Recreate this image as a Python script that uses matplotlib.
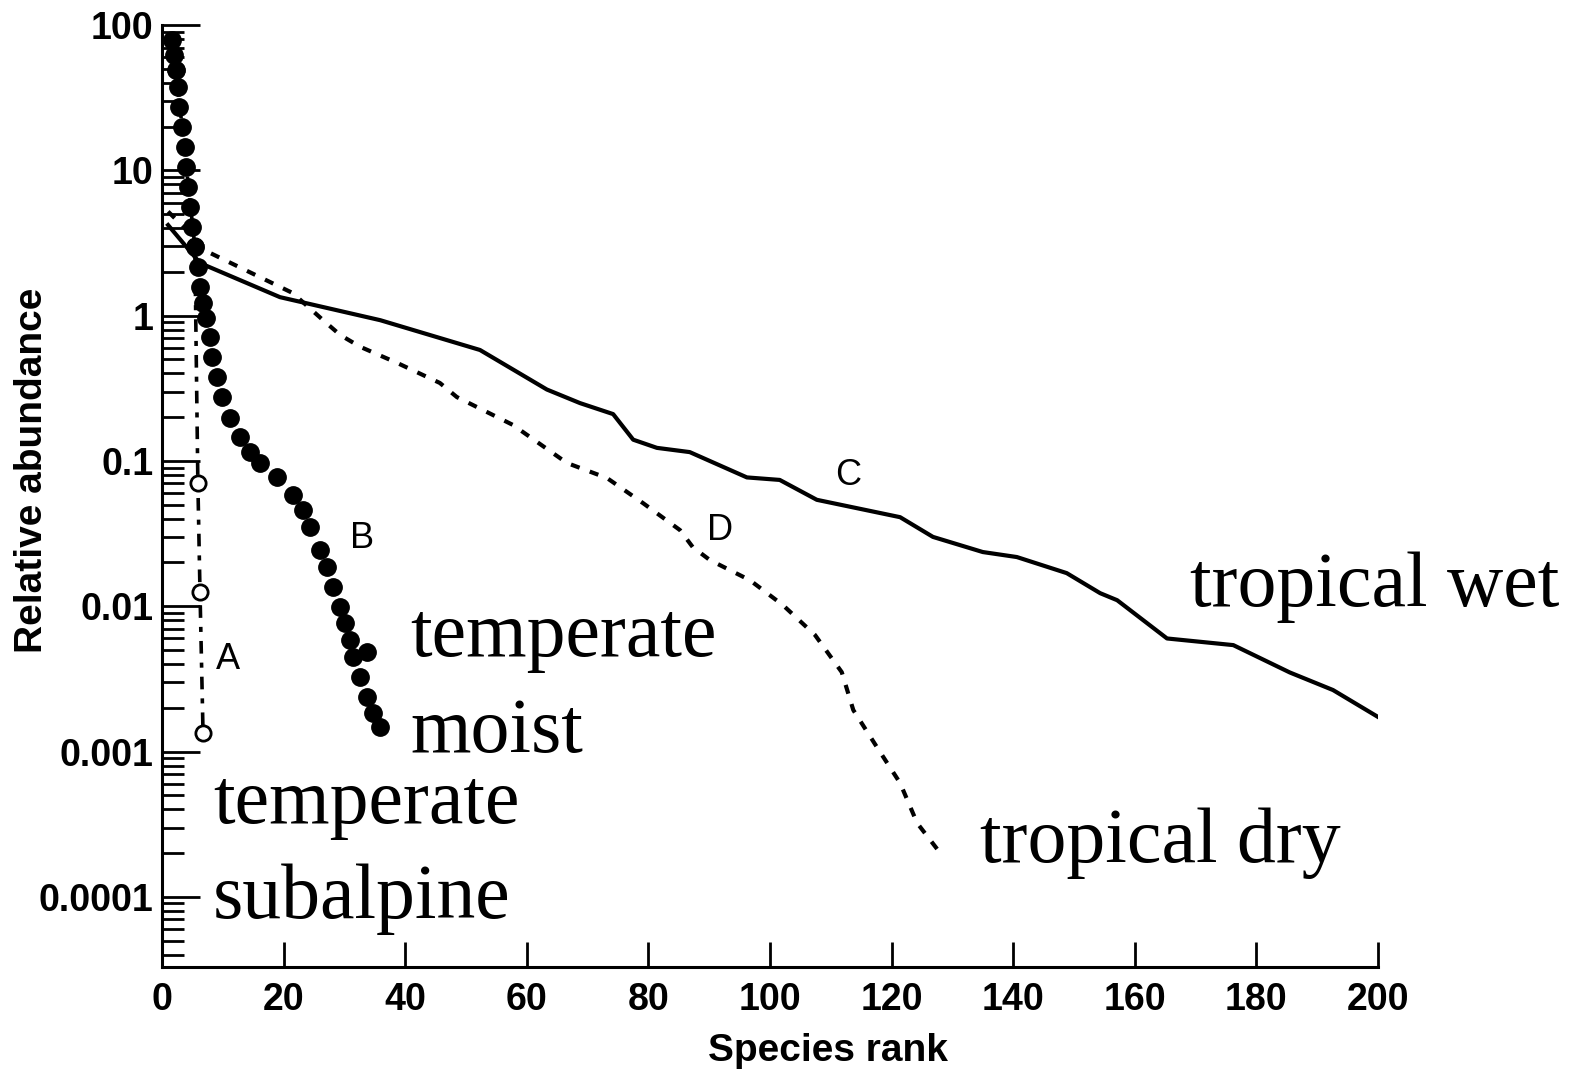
import matplotlib
matplotlib.use("Agg")
import matplotlib.pyplot as plt
from matplotlib.ticker import FixedLocator, LogLocator, NullFormatter

# A - temperate subalpine (open circles, dash-dot)
rank_a = [2.3, 5.4, 5.9, 6.25, 6.75]
abund_a = [49.0, 3.0, 0.0705, 0.0125, 0.00134]

# B - temperate moist (filled circles)
rank_b = [1.64, 1.97, 2.30, 2.63, 2.80, 3.29, 3.78, 3.95, 4.28, 4.61, 4.93,
          5.43, 5.92, 6.25, 6.74, 7.24, 7.89, 8.22, 9.05, 9.87, 11.18, 12.83,
          14.47, 16.12, 18.91, 21.55, 23.19, 24.34, 25.99, 27.14, 28.13,
          29.28, 30.10, 30.92, 31.41, 32.57, 33.72, 34.70, 35.86, 33.72]
abund_b = [78.9, 62.2, 49.0, 37.4, 27.3, 19.9, 14.5, 10.5, 7.68, 5.59, 4.07,
           2.97, 2.16, 1.57, 1.22, 0.962, 0.713, 0.519, 0.378, 0.275, 0.197,
           0.146, 0.115, 0.0968, 0.0775, 0.0582, 0.0459, 0.0351, 0.0244,
           0.0186, 0.0136, 0.00987, 0.00766, 0.00585, 0.00447, 0.00326,
           0.00237, 0.00184, 0.00148, 0.00484]

# C - tropical wet (solid)
rank_c = [1, 6.25, 19.4, 35.9, 52.3, 63.3, 68.75, 74.2, 77.5, 81.4, 86.8,
          96.2, 101.6, 107.7, 121.4, 126.8, 135.0, 140.6, 148.8, 154.3,
          157.1, 165.3, 176.2, 185.5, 192.6, 200]
abund_c = [4.2, 2.30, 1.34, 0.93, 0.58, 0.31, 0.25, 0.21, 0.14, 0.123, 0.115,
           0.077, 0.074, 0.054, 0.041, 0.030, 0.0236, 0.0218, 0.0169, 0.0123,
           0.0110, 0.0060, 0.0054, 0.0035, 0.00265, 0.00173]

# D - tropical dry (dashed)
rank_d = [1, 7.9, 21.5, 26.5, 29.3, 32.6, 38.7, 45.7, 48.5, 57.7, 66.6, 73.2,
          79.1, 85.2, 87.3, 90.1, 96.7, 102.1, 107.4, 111.8, 113.7, 117.6,
          121.4, 124.2, 128.5]
abund_d = [5.2, 2.70, 1.43, 0.93, 0.736, 0.61, 0.472, 0.344, 0.275, 0.177,
           0.0968, 0.0762, 0.0513, 0.0334, 0.0255, 0.0208, 0.0151, 0.0102,
           0.00634, 0.00352, 0.00193, 0.00107, 0.000607, 0.000322, 0.000188]

ytick_vals = [1e2, 1e1, 1, 1e-1, 1e-2, 1e-3, 1e-4]
ytick_labels = ["100", "10", "1", "0.1", "0.01", "0.001", "0.0001"]
xtick_vals = [0, 20, 40, 60, 80, 100, 120, 140, 160, 180, 200]

# curve letters and biome names
letters = [("A", 10.86, 0.00427), ("B", 32.9, 0.0294),
           ("C", 112.8, 0.080), ("D", 91.8, 0.0334)]
biomes = [("tropical wet", 169.1, 0.01), ("temperate", 40.8, 0.00454),
          ("moist", 40.8, 0.001), ("temperate", 8.4, 0.000322),
          ("subalpine", 8.4, 7.1e-5), ("tropical dry", 134.5, 1.74e-4)]

fig = plt.figure(figsize=(15.72, 10.76), dpi=100)
ax = fig.add_axes([162 / 1572, 1 - 967 / 1076, 1216 / 1572, 942 / 1076])

ax.plot(rank_a, abund_a, color="black", lw=2.6,
        linestyle=(0, (3.5, 2.5, 1.4, 2.5)), marker="o", ms=11,
        mfc="white", mec="black", mew=2.0, zorder=2)
ax.plot(rank_c, abund_c, color="black", lw=3.0, solid_joinstyle="round",
        zorder=2)
ax.plot(rank_d, abund_d, color="black", lw=3.0,
        linestyle=(0, (2.2, 2.6)), zorder=2)
ax.plot(rank_b, abund_b, linestyle="none", marker="o", ms=12.5,
        color="black", zorder=3)

ax.set_yscale("log")
ax.set_xlim(0, 200)
ax.set_ylim(3.29e-5, 100)

ax.yaxis.set_major_locator(FixedLocator(ytick_vals))
ax.set_yticklabels(ytick_labels)
ax.yaxis.set_minor_locator(LogLocator(base=10, subs=range(2, 10), numticks=20))
ax.yaxis.set_minor_formatter(NullFormatter())
ax.set_xticks(xtick_vals)

for side in ["top", "right"]:
    ax.spines[side].set_visible(False)
for side in ["left", "bottom"]:
    ax.spines[side].set_linewidth(2.2)

label_font = {"family": "Liberation Sans", "weight": "bold", "size": 28}
ax.tick_params(axis="y", which="major", direction="in", length=27, width=2.0,
               pad=6)
ax.tick_params(axis="y", which="minor", direction="in", length=16, width=2.0)
ax.tick_params(axis="x", which="major", direction="in", length=18, width=2.0,
               pad=11)
for lab in ax.get_xticklabels() + ax.get_yticklabels():
    lab.set_fontfamily("Liberation Sans")
    lab.set_fontweight("bold")
    lab.set_fontsize(27)

ax.set_xlabel("Species rank", **label_font)
ax.set_ylabel("Relative abundance", **label_font)
ax.xaxis.set_label_coords(0.548, -0.070)
ax.yaxis.set_label_coords(-0.092, 0.527)

for txt, x, y in letters:
    ax.text(x, y, txt, ha="center", va="center", fontsize=26,
            family="Liberation Sans")
for txt, x, y in biomes:
    ax.text(x, y, txt, ha="left", va="baseline", fontsize=56,
            family="Liberation Serif")

fig.savefig("out.png", dpi=100)
